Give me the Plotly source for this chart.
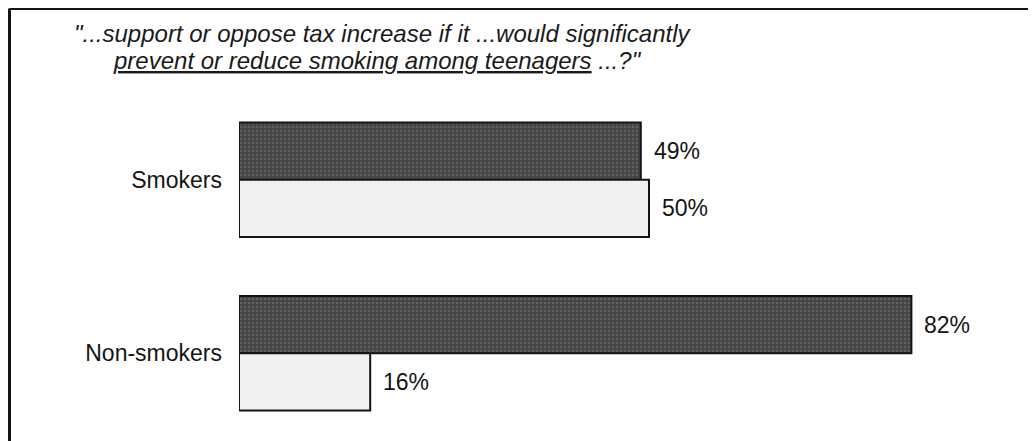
import plotly.graph_objects as go

groups = ["Smokers", "Non-smokers"]
support = [49, 82]
oppose = [50, 16]
support_labels = ["49%", "82%"]
oppose_labels = ["50%", "16%"]

# page has an 8px body margin: figure sized to fit the window
OFF = 8
W, H = 1036 - OFF, 441 - OFF
L, R, T, B = 231, 59, 85, 1
PW = W - L - R
PH = H - T - B
BARGAP = 0.34

def px(x):
    return (x - OFF - L) / PW

def py(y):
    return (H - B - (y - OFF)) / PH

font_family = "Liberation Sans, Arial, sans-serif"
ink = "#141414"

fig = go.Figure()
fig.add_trace(go.Bar(
    y=groups, x=support, orientation="h", name="Support",
    marker=dict(color="#4a4a4a", line=dict(color=ink, width=2),
                pattern=dict(shape=".", fgcolor="#7c7c7c", bgcolor="#444444",
                             size=4, solidity=0.35)),
))
fig.add_trace(go.Bar(
    y=groups, x=oppose, orientation="h", name="Oppose",
    marker=dict(color="#f1f1f1", line=dict(color=ink, width=2)),
))

fig.update_layout(
    width=W, height=H,
    margin=dict(l=L, r=R, t=T, b=B),
    paper_bgcolor="white", plot_bgcolor="white",
    barmode="group", bargap=BARGAP, bargroupgap=0.0,
    showlegend=False,
    xaxis=dict(range=[0, 90], visible=False),
    yaxis=dict(range=[1.5, -0.5], showgrid=False, zeroline=False,
               showline=False, ticks="", ticklabelstandoff=16,
               tickfont=dict(size=23, color=ink, family=font_family)),
    font=dict(family=font_family, color=ink),
)

# value labels beside the bars
half = (1 - BARGAP) / 4
for i, g in enumerate(groups):
    fig.add_annotation(x=support[i], y=i - half, xref="x", yref="y",
                       text=support_labels[i], showarrow=False,
                       xanchor="left", yanchor="middle", xshift=11,
                       font=dict(size=23, color=ink, family=font_family))
    fig.add_annotation(x=oppose[i], y=i + half, xref="x", yref="y",
                       text=oppose_labels[i], showarrow=False,
                       xanchor="left", yanchor="middle", xshift=11,
                       font=dict(size=23, color=ink, family=font_family))

# title (two lines)
fig.add_annotation(
    x=px(382), y=py(34), xref="paper", yref="paper",
    text="<i>\"...support or oppose tax increase if it ...would significantly</i>",
    showarrow=False, xanchor="center", yanchor="middle",
    font=dict(size=24, color="#1a1a1a", family=font_family),
)
fig.add_annotation(
    x=px(377), y=py(60), xref="paper", yref="paper",
    text="<i><u>prevent or reduce smoking among teenagers</u> ...?\"</i>",
    showarrow=False, xanchor="center", yanchor="middle",
    font=dict(size=24, color="#1a1a1a", family=font_family),
)

# frame lines (top and left)
fig.add_shape(type="line", xref="paper", yref="paper",
              x0=px(9.5), x1=px(1040), y0=py(8.5), y1=py(8.5),
              line=dict(color=ink, width=3))
fig.add_shape(type="line", xref="paper", yref="paper",
              x0=px(9.5), x1=px(9.5), y0=py(8.5), y1=py(445),
              line=dict(color=ink, width=3))

fig.write_html("out.html")
